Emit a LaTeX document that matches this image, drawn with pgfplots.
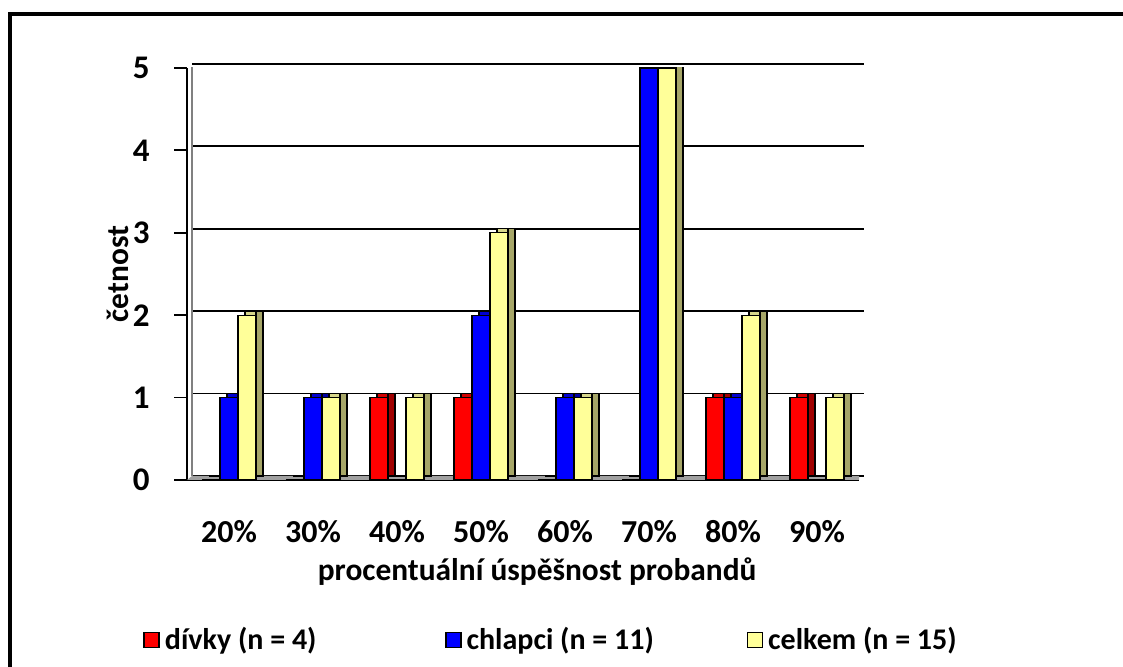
\documentclass[border=0pt]{standalone}
\usepackage{fontspec}
\setmainfont{Carlito}
\usepackage{pgfplots}
\pgfplotsset{compat=1.18}

\definecolor{girls}{HTML}{FF0000}
\definecolor{girlstop}{HTML}{D00000}
\definecolor{girlsside}{HTML}{A00000}
\definecolor{boys}{HTML}{0000FF}
\definecolor{boystop}{HTML}{0000D0}
\definecolor{boysside}{HTML}{0000A0}
\definecolor{total}{HTML}{FFFF99}
\definecolor{totaltop}{HTML}{D6D68A}
\definecolor{totalside}{HTML}{A6A668}
\definecolor{floorgray}{HTML}{A0A0A0}

% frequencies per success band (20% ... 90%)
\pgfplotstableread{
x girls boys total
0 0 1 2
1 0 1 1
2 1 0 1
3 1 2 3
4 0 1 1
5 0 5 5
6 1 1 2
7 1 0 1
}\freq

% depth faces of a column: side face and top face behind the front face
\pgfplotsset{
  side face/.style={ybar, bar width=9pt, xshift=3.5pt, yshift=2pt, forget plot},
  top face/.style={ybar, bar width=5.5pt, yshift=2pt, forget plot},
  front face/.style={ybar, bar width=9pt},
}

\begin{document}
\begin{tikzpicture}[x=0.5pt,y=0.5pt,font=\bfseries]
\useasboundingbox (0,0) rectangle (1123,667);
% chart frame
\draw[line width=2pt] (10,-20) -- (10,653) -- (1150,653);
\begin{axis}[
  at={(114.5pt,93.5pt)}, anchor=origin,
  scale only axis, width=336pt, height=206pt,
  xmin=-0.5, xmax=7.5, ymin=0, ymax=5,
  axis x line*=bottom, axis y line*=left,
  axis line style={line width=0.9pt},
  tick align=outside,
  major tick length=6.5pt,
  tick style={black, line width=0.9pt},
  xtick={0,...,7},
  xticklabels={20\%,30\%,40\%,50\%,60\%,70\%,80\%,90\%},
  xtick style={draw=none},
  extra x ticks={-0.5,0.5,1.5,2.5,3.5,4.5,5.5,6.5,7.5},
  extra x tick labels={},
  extra x tick style={tick style={black, line width=0.9pt}, major tick length=5pt},
  ytick={0,...,5},
  ymajorgrids,
  major grid style={black, line width=0.9pt, xshift=2.5pt, yshift=2pt},
  /pgf/number format/assume math mode=true,
  ticklabel style={font=\fontsize{16}{19}\selectfont\bfseries},
  yticklabel style={font=\fontsize{16.5}{19}\selectfont\bfseries, inner sep=0pt, xshift=-12pt},
  xticklabel style={inner sep=0pt, anchor=base, yshift=-25pt},
  xlabel={procentuální úspěšnost probandů},
  ylabel={četnost},
  label style={font=\fontsize{15.7}{18}\selectfont\bfseries},
  xlabel style={at={(axis description cs:0.521,-0.223)}, anchor=center},
  ylabel style={at={(axis description cs:-0.103,0.5)}, anchor=center},
  legend columns=3,
  legend style={at={(axis description cs:-0.0655,-0.388)}, anchor=west,
    draw=none, fill=none, inner sep=0pt, /tikz/column sep=2.5pt,
    nodes={inner sep=0pt},
    font=\fontsize{15}{18}\selectfont\bfseries},
  legend image code/.code={%
    \draw[#1, draw=black, line width=0.8pt] (0pt,-3.75pt) rectangle (7.5pt,3.75pt);},
  every axis plot/.append style={draw=black, line width=0.6pt},
]
% floor of the chart
\fill[floorgray] (axis cs:-0.5,0) -- (axis cs:7.5,0)
  -- ([shift={(2.5pt,2pt)}]axis cs:7.5,0) -- ([shift={(2.5pt,2pt)}]axis cs:-0.5,0) -- cycle;
% edges of the back wall
\draw[gray, line width=0.9pt] ([shift={(2.5pt,2pt)}]axis cs:7.5,0) -- ([shift={(2.5pt,2pt)}]axis cs:7.5,5);
\draw[gray, line width=0.6pt] ([shift={(2.5pt,2pt)}]axis cs:-0.5,0) -- ([shift={(2.5pt,2pt)}]axis cs:-0.5,5);

% girls
\addplot[side face, bar shift=-9pt, fill=girlsside] table[x=x,y=girls] {\freq};
\addplot[top face, bar shift=-7.25pt, fill=girlstop] table[x=x,y=girls] {\freq};
\addplot[front face, bar shift=-9pt, fill=girls] table[x=x,y=girls] {\freq};
\addlegendentry{\makebox[137.5pt][l]{dívky (n = 4)}}
% boys
\addplot[side face, bar shift=0pt, fill=boysside] table[x=x,y=boys] {\freq};
\addplot[top face, bar shift=1.75pt, fill=boystop] table[x=x,y=boys] {\freq};
\addplot[front face, bar shift=0pt, fill=boys] table[x=x,y=boys] {\freq};
\addlegendentry{\makebox[137.5pt][l]{chlapci (n = 11)}}
% all pupils
\addplot[side face, bar shift=9pt, fill=totalside] table[x=x,y=total] {\freq};
\addplot[top face, bar shift=10.75pt, fill=totaltop] table[x=x,y=total] {\freq};
\addplot[front face, bar shift=9pt, fill=total] table[x=x,y=total] {\freq};
\addlegendentry{\makebox[137.5pt][l]{celkem (n = 15)}}
\end{axis}
\end{tikzpicture}
\end{document}
